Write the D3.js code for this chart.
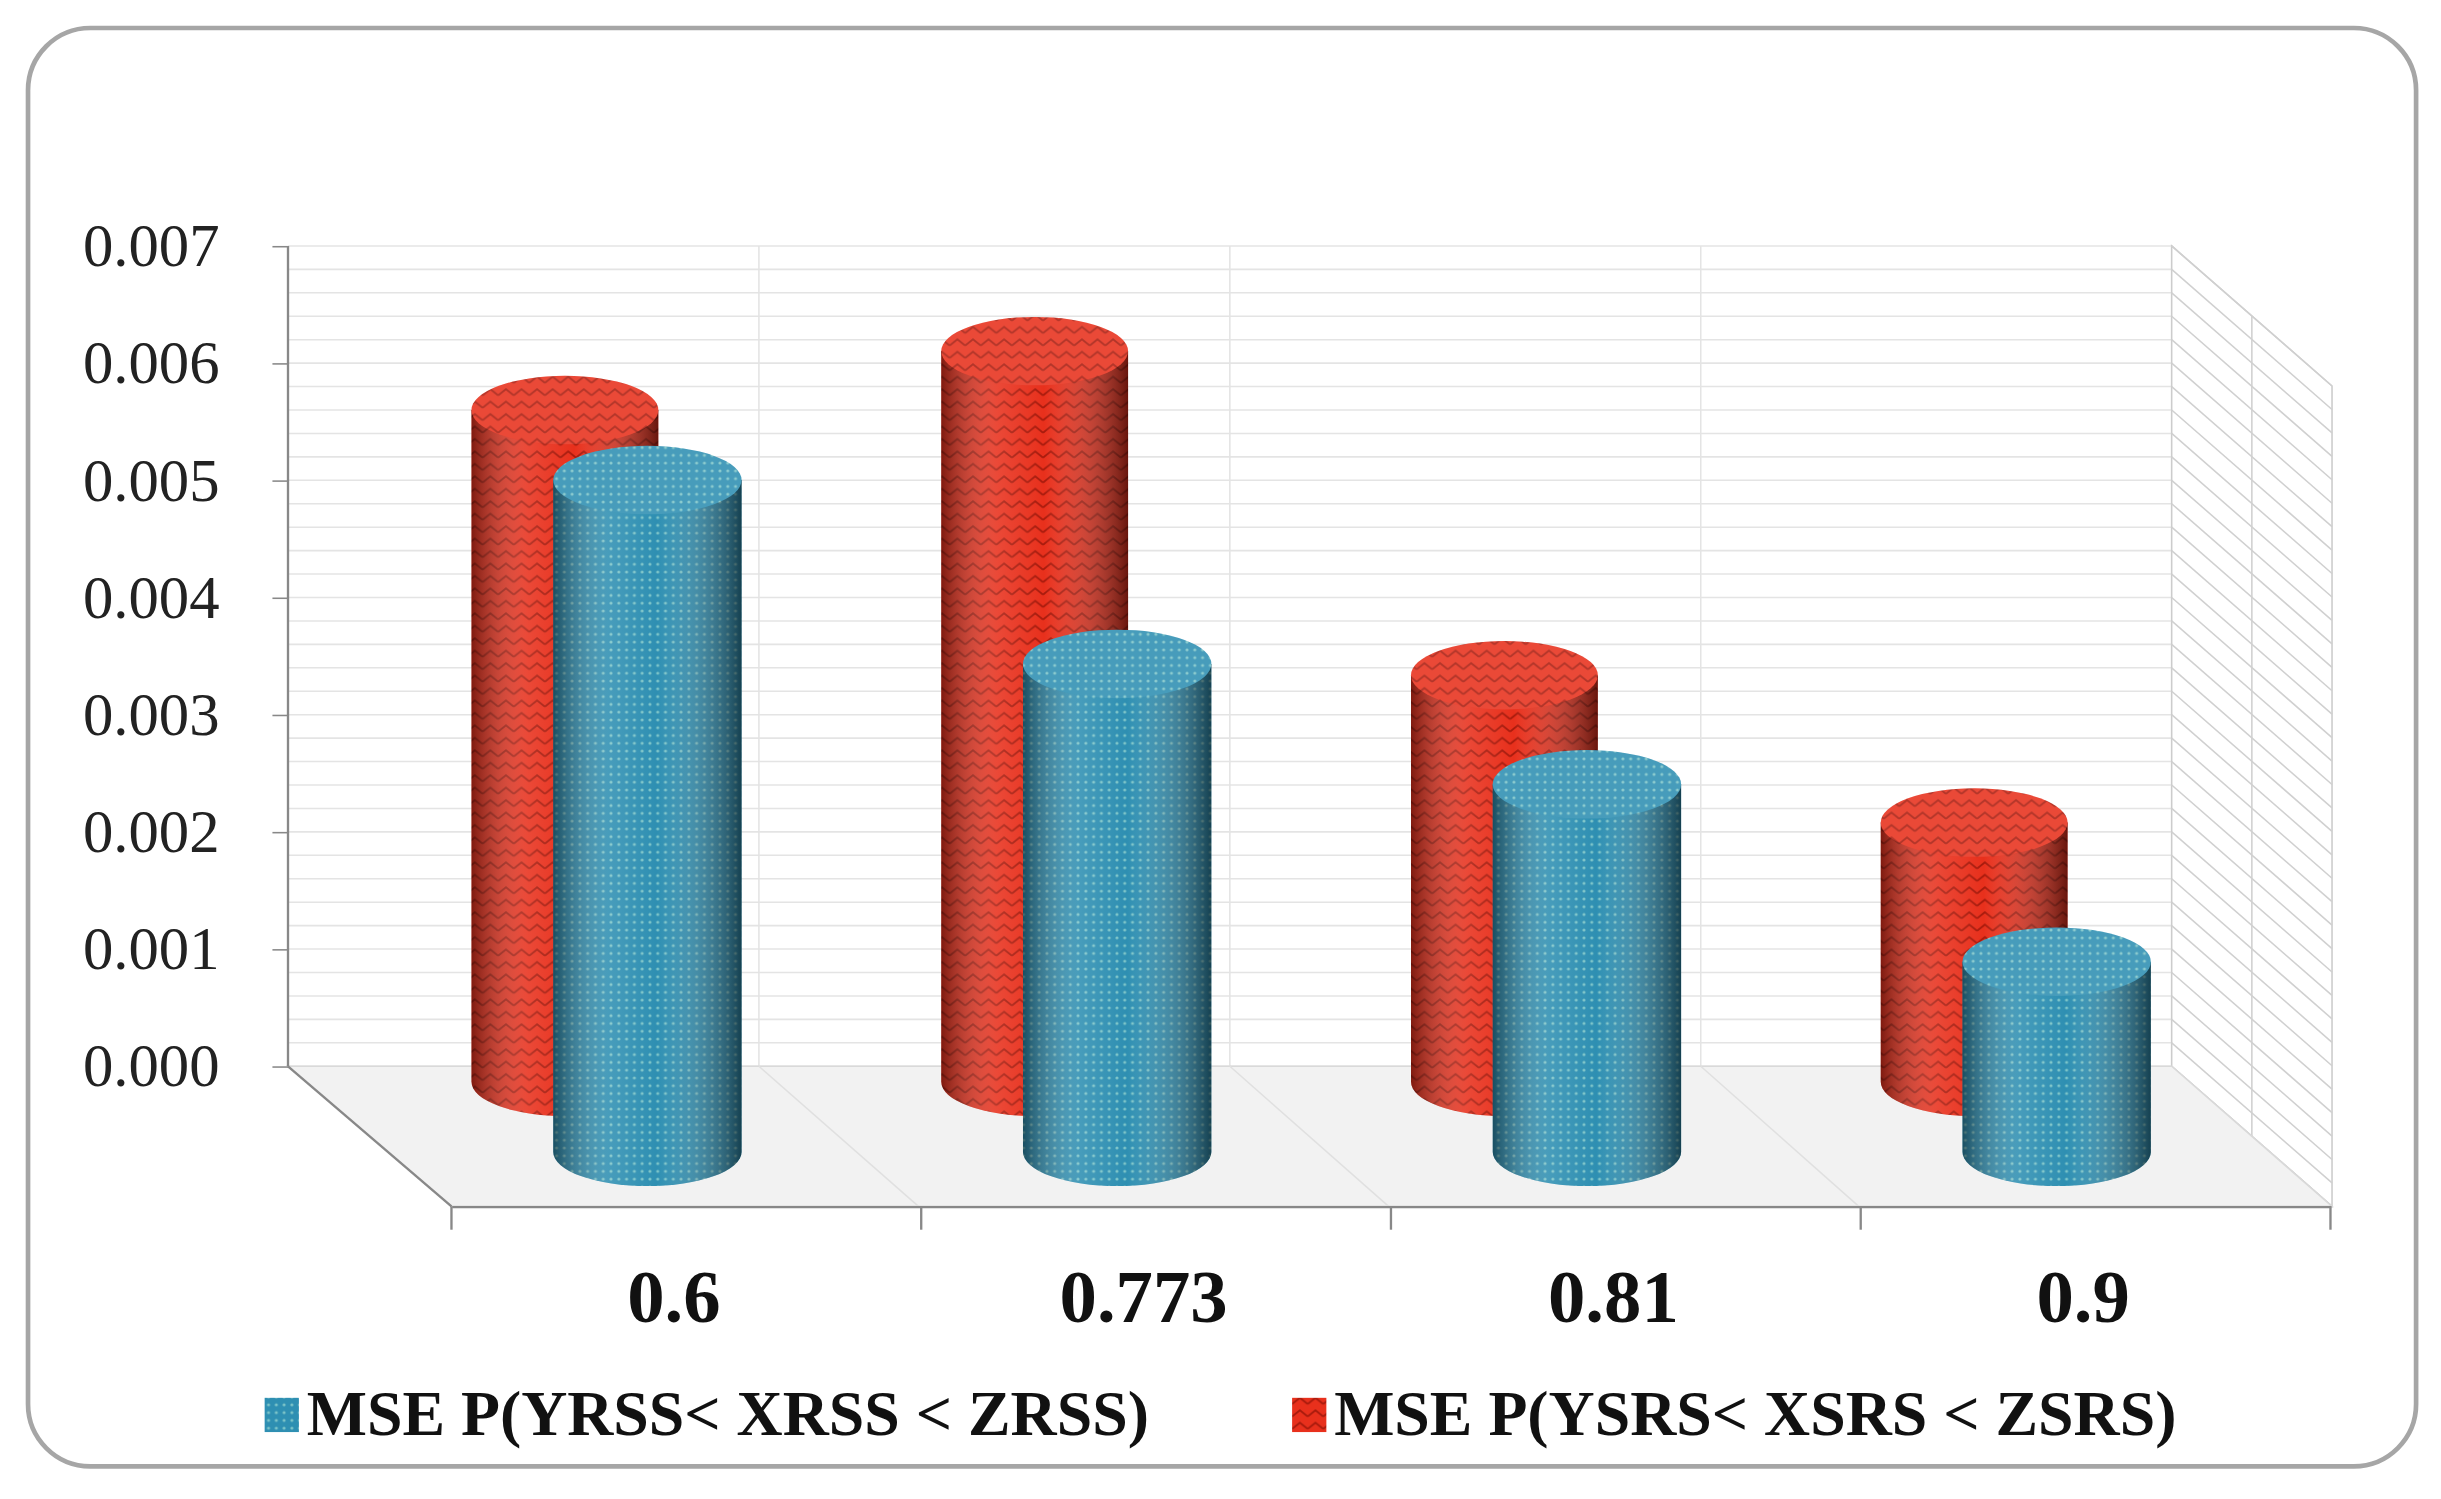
<!DOCTYPE html>
<html><head><meta charset="utf-8">
<script src="https://cdn.jsdelivr.net/npm/d3@7"></script>
<style>body{margin:0;background:#fff}svg{display:block}</style></head>
<body><svg id="c" width="2441" height="1499" viewBox="0 0 1568 963" preserveAspectRatio="none"></svg>
<script>
const categories = ["0.6","0.773","0.81","0.9"];
const seriesNames = ["MSE P(YRSS< XRSS < ZRSS)","MSE P(YSRS< XSRS < ZSRS)"];
const rssValues = [0.0053,0.00385,0.0029,0.0015];
const srsValues = [0.0057,0.0062,0.00345,0.0022];
const yTicks = [0,0.001,0.002,0.003,0.004,0.005,0.006,0.007];

const svg = d3.select("#c");
const defs = svg.append("defs");
const pr = defs.append("pattern").attr("id","pr").attr("width",10).attr("height",8).attr("patternUnits","userSpaceOnUse");
pr.append("rect").attr("width",10).attr("height",8).attr("fill","#e8301c");
pr.append("path").attr("d","M0,6 L5,2 L10,6").attr("fill","none").attr("stroke","#a81a0c").attr("stroke-width",1.2);
const pb = defs.append("pattern").attr("id","pb").attr("width",5).attr("height",5).attr("patternUnits","userSpaceOnUse");
pb.append("rect").attr("width",5).attr("height",5).attr("fill","#2e8fb2");
pb.append("circle").attr("cx",2.5).attr("cy",2.5).attr("r",1).attr("fill","#7cc4c8");
const sh = defs.append("linearGradient").attr("id","sh");
[[0,"#000",0.45],[0.3,"#fff",0.12],[0.55,"#fff",0.0],[1,"#000",0.55]].forEach(s=>sh.append("stop").attr("offset",s[0]).attr("stop-color",s[1]).attr("stop-opacity",s[2]));

svg.append("rect").attr("x",18).attr("y",18).attr("width",1534).attr("height",924).attr("rx",40)
  .attr("fill","#fff").attr("stroke","#a6a6a6").attr("stroke-width",3);

const x0 = 185, x1 = 1395, dx = 103, dy = 90;
const y = d3.scaleLinear().domain([0,0.007]).range([685,158]);
const minor = d3.range(0,0.00701,0.0002);
svg.append("g").selectAll("line").data(minor).join("line")
  .attr("x1",x0).attr("x2",x1).attr("y1",d=>y(d)).attr("y2",d=>y(d)).attr("stroke","#e4e4e4");
svg.append("g").selectAll("line").data(d3.range(5)).join("line")
  .attr("x1",d=>x0+d*302.5).attr("x2",d=>x0+d*302.5).attr("y1",158).attr("y2",685).attr("stroke","#e4e4e4");
svg.append("path").attr("d",`M${x1},158 L${x1+dx},${158+dy} L${x1+dx},${685+dy} L${x1},685Z`).attr("fill","#fff").attr("stroke","#ccc");
svg.append("g").selectAll("line").data(minor).join("line")
  .attr("x1",x1).attr("x2",x1+dx).attr("y1",d=>y(d)).attr("y2",d=>y(d)+dy).attr("stroke","#d0d0d0");
svg.append("line").attr("x1",x1+dx/2).attr("x2",x1+dx/2).attr("y1",158+dy/2).attr("y2",685+dy/2).attr("stroke","#d0d0d0");
svg.append("path").attr("d",`M${x0},685 L${x1},685 L${x1+dx},${685+dy} L${x0+dx+2},${685+dy}Z`).attr("fill","#f2f2f2").attr("stroke","#d9d9d9");
svg.append("g").selectAll("line").data(d3.range(1,4)).join("line")
  .attr("x1",d=>x0+d*302.5).attr("x2",d=>x0+dx+d*302).attr("y1",685).attr("y2",685+dy).attr("stroke","#e0e0e0");
svg.append("line").attr("x1",x0).attr("x2",x0).attr("y1",158).attr("y2",685).attr("stroke","#888").attr("stroke-width",1.5);
svg.append("line").attr("x1",x0).attr("x2",x0+dx+2).attr("y1",685).attr("y2",685+dy).attr("stroke","#888").attr("stroke-width",1.5);
const ya = svg.append("g").attr("transform",`translate(${x0},0)`).call(d3.axisLeft(y).tickValues(yTicks).tickFormat(d3.format(".3f")).tickSize(10).tickPadding(34));
ya.select(".domain").remove();
ya.selectAll("line").attr("stroke","#888");
ya.selectAll("text").attr("font-family","Liberation Serif").attr("font-size",39).attr("fill","#222");
const xa = d3.scaleBand().domain(categories).range([290,1497]);
const xg = svg.append("g").attr("transform",`translate(0,${685+dy})`).call(d3.axisBottom(xa).tickSize(0).tickPadding(40));
xg.select(".domain").attr("stroke","#888").attr("stroke-width",1.5);
svg.append("g").selectAll("line").data(d3.range(5)).join("line")
  .attr("x1",d=>290+d*xa.step()).attr("x2",d=>290+d*xa.step()).attr("y1",775).attr("y2",790).attr("stroke","#888").attr("stroke-width",1.5);
xg.selectAll("text").attr("font-family","Liberation Serif").attr("font-weight","bold").attr("font-size",48).attr("fill","#111").attr("dx",-8);

const yr = d3.scaleLinear().domain([0,0.007]).range([695,165]);
const yb = d3.scaleLinear().domain([0,0.007]).range([740,170]);
function cyl(cx,top,bot,w,ry,pat){
  const g = svg.append("g");
  const l=cx-w/2,r=cx+w/2;
  const d=`M${l},${top} L${l},${bot} A${w/2},${ry} 0 0 0 ${r},${bot} L${r},${top} Z`;
  g.append("path").attr("d",d).attr("fill",`url(#${pat})`);
  g.append("path").attr("d",d).attr("fill","url(#sh)");
  g.append("ellipse").attr("cx",cx).attr("cy",top).attr("rx",w/2).attr("ry",ry).attr("fill",`url(#${pat})`);
  g.append("ellipse").attr("cx",cx).attr("cy",top).attr("rx",w/2).attr("ry",ry).attr("fill","#fff").attr("opacity",0.12);
}
categories.forEach((c,i)=>{
  const cx = xa(c)+xa.bandwidth()/2;
  cyl(cx-78, yr(srsValues[i]), yr(0), 120, 22, "pr");
});
categories.forEach((c,i)=>{
  const cx = xa(c)+xa.bandwidth()/2;
  cyl(cx-25, yb(rssValues[i]), yb(0), 121, 22, "pb");
});

const lg = [{x:170,p:"pb",t:seriesNames[0]},{x:830,p:"pr",t:seriesNames[1]}];
lg.forEach(o=>{
  svg.append("rect").attr("x",o.x).attr("y",898).attr("width",22).attr("height",22).attr("fill",`url(#${o.p})`);
  svg.append("text").attr("x",o.x+27).attr("y",922).text(o.t).attr("font-family","Liberation Serif").attr("font-weight","bold").attr("font-size",41).attr("fill","#111");
});
</script></body></html>
